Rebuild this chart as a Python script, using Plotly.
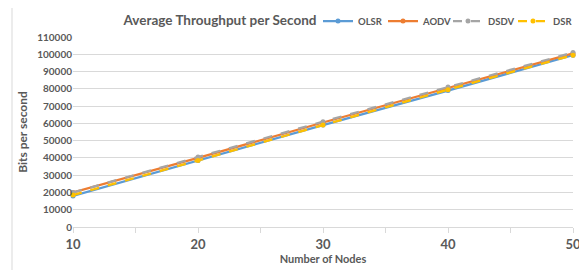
import plotly.graph_objects as go

nodes = [10, 20, 30, 40, 50]
olsr = [18000, 38500, 59000, 79000, 99500]
aodv = [20000, 40000, 60500, 80500, 100500]
dsdv = [20000, 40500, 61000, 81000, 101000]
dsr = [18500, 38500, 59000, 79500, 99500]

series = [
    ("OLSR", olsr, "#5B9BD5", "solid"),
    ("AODV", aodv, "#ED7D31", "solid"),
    ("DSDV", dsdv, "#A5A5A5", "dash"),
    ("DSR", dsr, "#FFC000", "dash"),
]

fig = go.Figure()
for name, vals, col, dash in series:
    fig.add_trace(go.Scatter(
        x=nodes, y=vals, name=name, mode="lines+markers",
        line=dict(color=col, width=2.25, dash=dash),
        marker=dict(symbol="circle", size=5, color=col),
        cliponaxis=False,
    ))

font = "Lato, 'Open Sans', sans-serif"
grey = "#595959"
W, H = 579, 262

fig.update_layout(
    width=W, height=H,
    margin=dict(l=65, r=14, t=29, b=43, autoexpand=False),
    paper_bgcolor="white", plot_bgcolor="white",
    font=dict(family=font, color=grey),
    title=dict(text="<b>Average Throughput per Second</b>", x=212 / W, xanchor="center",
               y=1 - 12 / H, yanchor="middle", font=dict(size=13.5, color=grey)),
    showlegend=True,
    legend=dict(orientation="h", x=1.01, xanchor="right", yref="container", y=1 - 13 / H,
                yanchor="middle", entrywidth=20, entrywidthmode="pixels",
                font=dict(size=9.5, color=grey, weight="bold"), bgcolor="rgba(0,0,0,0)",
                itemwidth=30, tracegroupgap=0),
    xaxis=dict(range=[10, 50], tickvals=[10, 20, 30, 40, 50], showgrid=False, automargin=False,
               showline=True, linecolor="#D9D9D9", linewidth=1,
               ticks="outside", ticklen=5, tickcolor="#D9D9D9",
               minor=dict(tickvals=[15, 25, 35, 45], ticks="outside", ticklen=5, tickcolor="#D9D9D9"),
               tickfont=dict(size=13, color=grey, family=font, weight="bold"),
               title=dict(text="<b>Number of Nodes</b>", font=dict(size=11, color=grey), standoff=4),
               zeroline=False),
    yaxis=dict(range=[0, 110000], dtick=10000, showgrid=True, gridcolor="#D9D9D9", gridwidth=1,
               automargin=False,
               tickformat="d", tickfont=dict(size=10, color=grey, family=font, weight="bold"),
               ticks="", showline=False, zeroline=False,
               title=dict(text="<b>Bits per second</b>", font=dict(size=12, color=grey), standoff=6)),
)
fig.add_shape(type="rect", xref="paper", yref="paper", x0=-0.122, y0=-0.5, x1=1.2, y1=1.3,
              line=dict(color="#D9D9D9", width=1), fillcolor="rgba(0,0,0,0)", layer="below")

fig.write_html("out.html")
